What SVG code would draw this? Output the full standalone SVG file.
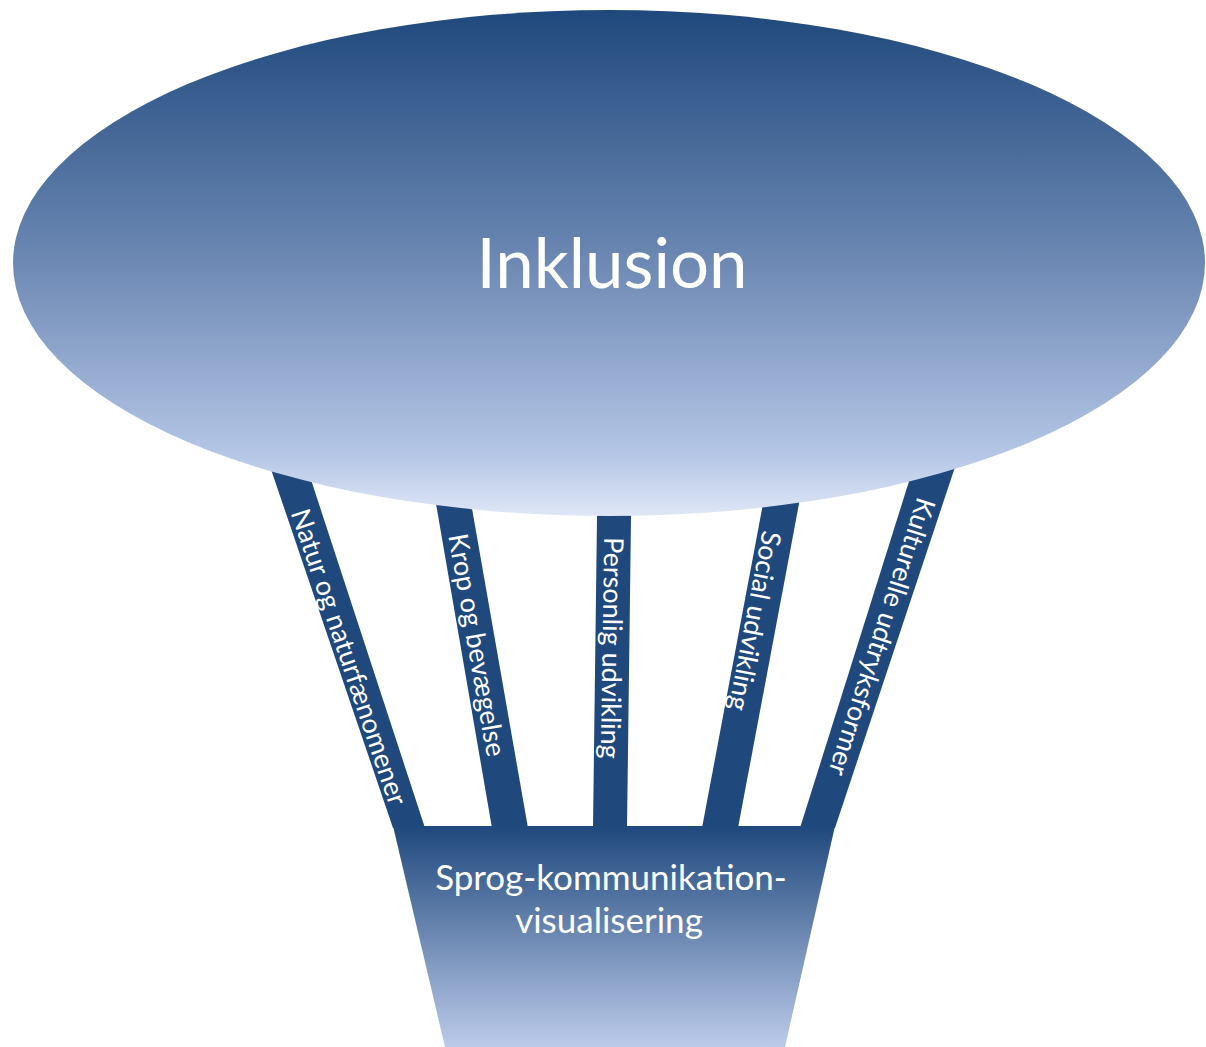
<svg xmlns="http://www.w3.org/2000/svg" width="1206" height="1047" viewBox="0 0 1206 1047">
<defs>
<linearGradient id="gEll" x1="0" y1="0" x2="0" y2="1">
<stop offset="0" stop-color="#1f487c"/>
<stop offset="0.5" stop-color="#6d89b4"/>
<stop offset="0.88" stop-color="#b5c6e6"/>
<stop offset="1" stop-color="#dfe7f6"/>
</linearGradient>
<linearGradient id="gTrap" x1="0" y1="0" x2="0" y2="1">
<stop offset="0" stop-color="#1f487c"/>
<stop offset="1" stop-color="#bccbea"/>
</linearGradient>
</defs>
<style>
.bar{fill:#1f487c}
.lbl{font-family:Lato,"Liberation Sans",sans-serif;font-size:27px;fill:#ffffff;text-anchor:middle}
.big{font-family:Lato,"Liberation Sans",sans-serif;fill:#ffffff;text-anchor:middle}
</style>
<g id="connectors">
<polygon class="bar" points="261,440 298,440 425,828 393,828"/>
<polygon class="bar" points="425,440 460,440 528,828 492,828"/>
<polygon class="bar" points="598,440 632,440 627,828 593,828"/>
<polygon class="bar" points="775,440 811,440 738,828 702,828"/>
<polygon class="bar" points="922,440 964,440 835,828 800,828"/>
</g>
<g id="base">
<polygon points="393,826 835,826 785,1047 445,1047" fill="url(#gTrap)"/>
<text class="big" font-size="35" x="611" y="890">Sprog-kommunikation-</text>
<text class="big" font-size="35" x="609" y="933">visualisering</text>
</g>
<g id="inklusion">
<ellipse cx="609" cy="263" rx="596" ry="253" fill="url(#gEll)"/>
<text class="big" font-size="69" x="612" y="288">Inklusion</text>
</g>
<g id="label-natur">
<text class="lbl" transform="translate(349,657) rotate(71.4)" dy="0.35em">Natur og naturfænomener</text>
</g>
<g id="label-krop">
<text class="lbl" transform="translate(477,645) rotate(80.1)" dy="0.35em">Krop og bevægelse</text>
</g>
<g id="label-personlig">
<text class="lbl" transform="translate(612,648) rotate(90.9)" dy="0.35em">Personlig udvikling</text>
</g>
<g id="label-social">
<text class="lbl" transform="translate(755,621) rotate(100.8)" dy="0.35em">Social udvikling</text>
</g>
<g id="label-kulturelle">
<text class="lbl" transform="translate(882,637) rotate(108)" dy="0.35em">Kulturelle udtryksformer</text>
</g>
</svg>
